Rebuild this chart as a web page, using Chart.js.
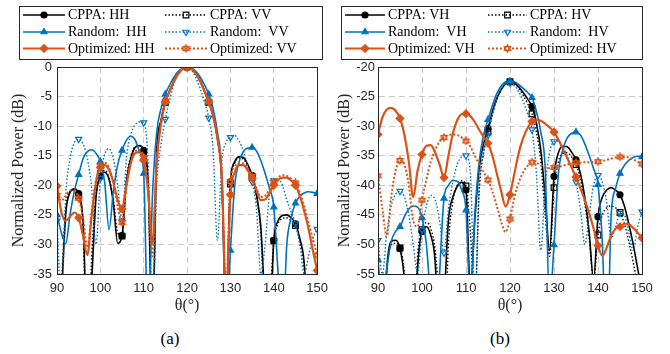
<!DOCTYPE html>
<html>
<head>
<meta charset="utf-8">
<script src="https://cdn.jsdelivr.net/npm/chart.js@4/dist/chart.umd.min.js"></script>
<style>
  body { margin: 0; background: #fff; width: 670px; height: 354px; position: relative; overflow: hidden; }
  .panel { position: absolute; top: 0; width: 335px; height: 320px; }
  .cap { position: absolute; top: 329px; width: 60px; text-align: center; font: 17px "Liberation Serif", serif; color: #000; }
</style>
</head>
<body>
<div class="panel" style="left:0"><canvas id="chartA" width="335" height="320"></canvas></div>
<div class="panel" style="left:335px"><canvas id="chartB" width="335" height="320"></canvas></div>
<div class="cap" style="left:140px">(a)</div>
<div class="cap" style="left:470px">(b)</div>
<script>
// angle samples (deg)
const theta = [
  90, 91, 92, 93, 94, 95, 96, 97, 98, 99,
  100, 101, 102, 103, 104, 105, 106, 107, 108, 109,
  110, 111, 112, 113, 114, 115, 116, 117, 118, 119,
  120, 121, 122, 123, 124, 125, 126, 127, 128, 129,
  130, 131, 132, 133, 134, 135, 136, 137, 138, 139,
  140, 141, 142, 143, 144, 145, 146, 147, 148, 149,
  150
];
const xTicks = [90, 100, 110, 120, 130, 140, 150];

// ---- panel (a): co-polar ----
const cppaHH = [
  -60, -40, -25, -21.2, -20.6, -21.4, -26, -45, -36, -22,
  -18.5, -17.8, -19, -23, -29.8, -28.5, -19.5, -15.5, -13.6, -13.3,
  -14.1, -19, -45, -14.5, -9, -5.8, -4, -2.3, -1, -0.25,
  0, -0.25, -1, -2.3, -4, -5.8, -8.2, -12, -19, -40,
  -19.4, -16, -15.2, -15.3, -16.5, -18.3, -21.5, -27, -40, -45,
  -29.3, -26, -25.1, -25, -25.5, -26.5, -29, -33, -45, -50,
  -60
];
const cppaVV = [
  -60, -38, -24, -21, -20.8, -21.8, -27, -50, -32, -21.5,
  -18, -17.5, -18.7, -22.5, -28, -28.6, -19, -15.2, -13.5, -13.4,
  -14.4, -20, -45, -15, -9.2, -6, -4.1, -2.3, -1, -0.25,
  0, -0.25, -1, -2.3, -4.1, -6, -8.4, -12, -19, -40,
  -19.8, -16.2, -15.4, -15.6, -16.8, -18.6, -22, -28, -42, -40,
  -29.4, -26.5, -25.6, -25.5, -26, -26.8, -29.5, -34, -45, -48,
  -60
];
const randHH = [
  -25, -28, -29.9, -25, -21, -18.2, -15.5, -14.3, -14, -14.6,
  -16, -19.5, -27.5, -21, -16.5, -14.1, -12.4, -11.7, -12.3, -14.3,
  -18, -45, -22, -11, -7, -4.6, -3, -1.7, -0.7, -0.15,
  0, -0.15, -0.7, -1.7, -3, -4.6, -7, -11, -18, -45,
  -31, -20, -16, -14.3, -13.7, -13.6, -14.2, -15.8, -18, -20.5,
  -23.7, -35, -45, -30, -25.5, -23, -21.9, -21.3, -21.1, -21.2,
  -21.4
];
const randVV = [
  -26, -40, -22, -15.5, -12.8, -12.2, -13, -15.5, -20.5, -30,
  -18.8, -14.8, -13.8, -15.5, -20, -26, -15.5, -11.5, -9.8, -9.3,
  -9.4, -16, -40, -20, -13, -8.8, -5.5, -2.8, -1.1, -0.25,
  0, -0.5, -1.8, -3.6, -5.9, -8.6, -14, -29.3, -16, -12.7,
  -11.9, -11.6, -12.5, -14.3, -16.8, -19.4, -24, -35, -30, -21.5,
  -19.2, -19, -20, -22.5, -24.5, -26.5, -30, -35, -32, -29,
  -27.4
];
const optHH = [
  -20.1, -24.5, -26, -25.3, -24.6, -25.5, -28.5, -31.8, -25, -19.5,
  -17, -16.6, -17.4, -19.5, -22.5, -24, -20, -16.3, -14.6, -14.4,
  -15.8, -21, -30, -16, -9.5, -5.9, -4.1, -2.4, -1.1, -0.3,
  0, -0.3, -1.1, -2.4, -4.1, -5.9, -8.3, -12, -18.5, -40,
  -21.6, -17.8, -16.6, -16.6, -17.5, -18.8, -20.8, -22.5, -22.4, -21.3,
  -20, -19.1, -18.7, -18.7, -19.2, -20, -21.8, -24.3, -27.3, -31,
  -34.4
];
const optVV = [
  -21.7, -22.6, -21.8, -20.9, -21, -22.2, -25.5, -30.5, -24.5, -19.2,
  -16.7, -16.2, -17, -19.5, -23.5, -26.3, -20.5, -16.2, -14.3, -14,
  -15.3, -20, -32, -16, -9.4, -5.8, -4, -2.3, -1, -0.25,
  0, -0.25, -1, -2.3, -4, -5.8, -8.2, -12, -18, -38,
  -19.4, -16.8, -16.3, -16.3, -17.2, -18.5, -20.5, -22, -21.8, -20.7,
  -19.5, -18.7, -18.3, -18.4, -18.9, -19.6, -21.2, -23.5, -26.3, -29,
  -31.8
];

// ---- panel (b): cross-polar ----
const cppaVH = [
  -70, -70, -54, -49.5, -49.3, -50.7, -56, -70, -70, -54,
  -47.8, -47, -48.5, -53, -70, -60, -46, -42, -40.2, -39.5,
  -40.8, -58, -46, -37, -33, -30.4, -27.5, -25.3, -23.8, -22.8,
  -22.5, -22.7, -23.4, -24.3, -25.4, -26.7, -29.5, -34, -42, -51,
  -38.5, -34.5, -33.4, -33.5, -34.4, -35.7, -38, -42, -48, -56,
  -45.3, -42, -40.8, -40.4, -40.8, -41.6, -43.5, -46.5, -50, -54,
  -58
];
const cppaHV = [
  -70, -70, -55, -50, -49.8, -50.6, -55, -70, -70, -52,
  -47.5, -46.3, -47.3, -51, -60, -70, -50, -42.8, -40, -39.2,
  -40.1, -48, -60, -41, -34.5, -31, -28, -25.5, -23.8, -22.8,
  -22.5, -22.8, -23.6, -24.8, -26.2, -27.9, -31, -36, -45, -52,
  -40.4, -36, -34.6, -34.5, -35.2, -36.5, -39, -43, -49, -56,
  -48.4, -45, -43.8, -43.5, -43.8, -44.6, -46.5, -49.5, -53, -57,
  -60
];
const randVH = [
  -52.6, -60, -54, -49.5, -47.8, -47, -45.3, -44, -43.5, -43.7,
  -45.5, -50, -60, -70, -55, -42.2, -40, -39.2, -39.3, -40.8,
  -44.2, -60, -45, -36, -31.5, -28.9, -26.5, -24.5, -23.2, -22.5,
  -22.4, -22.5, -23, -23.6, -24.3, -25.2, -27.5, -31, -37, -60,
  -50.1, -38, -34, -32, -31.2, -31, -31.5, -33, -35, -37.2,
  -39.9, -50, -70, -45, -40.5, -38, -36.6, -35.8, -35.3, -35.1,
  -35.2
];
const randHV = [
  -49.3, -55, -48, -43.5, -41.5, -41, -42, -45, -50, -55,
  -47.6, -43.5, -41.7, -42.5, -46, -51.4, -44, -39.5, -36.5, -35.2,
  -35, -38, -60, -40, -34.5, -31.5, -28, -25.3, -23.6, -22.8,
  -22.7, -23.2, -24.2, -25.8, -27.9, -30.6, -38, -51, -40, -34.5,
  -32.6, -32.5, -33.5, -35, -37, -39.4, -44, -50, -45, -40,
  -38.3, -39.5, -43, -49, -47, -44.7, -45, -48, -51, -47,
  -44.5
];
const optVH = [
  -31.4, -28.5, -27.2, -26.9, -27.4, -28.7, -31.5, -36, -42, -37.5,
  -34.8, -33.3, -33.2, -34.5, -36.5, -38.7, -35, -31.3, -29, -28,
  -27.9, -28.3, -29.3, -30.6, -31.8, -32.9, -35, -38, -41, -43.6,
  -41.6, -38, -34.5, -32, -30.3, -29.2, -28.9, -29.1, -29.6, -30.2,
  -31, -32.3, -33.8, -35.4, -37, -38.6, -40.5, -42.5, -44.8, -47.3,
  -50.2, -51.9, -50.5, -48.5, -47.3, -47, -46.5, -46.6, -47.2, -48,
  -48.9
];
const optHV = [
  -38.4, -44, -48.7, -42, -37.5, -35.8, -36.5, -40, -46, -47,
  -42.5, -39, -36, -34, -32.6, -31.9, -31.5, -31.4, -31.5, -31.9,
  -32.5, -33.5, -35, -36.5, -37.8, -39.1, -41, -43.5, -46.2, -47.9,
  -45.7, -42, -39.5, -37.8, -36.7, -36.1, -36.2, -36.6, -37, -37.1,
  -37, -36.9, -36.7, -36.5, -36.3, -36.2, -36.2, -36.1, -36.1, -36,
  -36, -35.9, -35.7, -35.5, -35.3, -35.2, -35.2, -35.3, -35.6, -36,
  -36.4
];

const labelsA = ['CPPA: HH', 'CPPA: VV', 'Random:  HH', 'Random:  VV', 'Optimized: HH', 'Optimized: VV'];
const labelsB = ['CPPA: VH', 'CPPA: HV', 'Random:  VH', 'Random:  HV', 'Optimized: VH', 'Optimized: HV'];

const BLACK = '#000000', BLUE = '#0072BD', ORANGE = '#D95319', AXIS = '#262626';

function hexagram(color) {
  const c = document.createElement('canvas');
  c.width = 9; c.height = 9;
  const g = c.getContext('2d');
  g.strokeStyle = color;
  g.lineWidth = 1.2;
  for (let k = 0; k < 2; k++) {
    g.beginPath();
    for (let j = 0; j < 3; j++) {
      const a = -Math.PI / 2 + k * Math.PI + j * 2 * Math.PI / 3;
      const px = 4.5 + 3.7 * Math.cos(a), py = 4.5 + 3.7 * Math.sin(a);
      if (j) g.lineTo(px, py); else g.moveTo(px, py);
    }
    g.closePath();
    g.stroke();
  }
  return c;
}
const hexOrange = hexagram(ORANGE);

const styles = [
  { color: BLACK, dash: [], width: 1.6, point: 'circle', fill: true, radius: 3 },
  { color: BLACK, dash: [1.5, 2], width: 1.4, point: 'rect', fill: false, radius: 4 },
  { color: BLUE, dash: [], width: 1.6, point: 'triangle', fill: true, radius: 3.5 },
  { color: BLUE, dash: [1.5, 2], width: 1.4, point: 'triangle', rotation: 180, fill: false, radius: 3.5 },
  { color: ORANGE, dash: [], width: 2.2, point: 'rectRot', fill: true, radius: 3.8 },
  { color: ORANGE, dash: [2, 2], width: 2, point: hexOrange, fill: false, radius: 4 }
];

function makeSet(label, vals, st, i) {
  return {
    label: label,
    data: theta.map((t, k) => ({ x: t, y: vals[k] })),
    borderColor: st.color,
    borderWidth: st.width,
    borderDash: st.dash,
    pointStyle: st.point,
    pointRotation: st.rotation || 0,
    pointRadius: ctx => (ctx.raw && ctx.raw.x % 5 === 0 ? st.radius : 0),
    pointBackgroundColor: st.fill ? st.color : 'rgba(0,0,0,0)',
    pointBorderColor: st.color,
    pointBorderWidth: 1.2,
    cubicInterpolationMode: 'monotone',
    fill: false,
    order: 6 - i
  };
}

const boxPlugin = {
  id: 'boxLegend',
  afterDatasetsDraw(chart) {
    const { ctx, chartArea: a } = chart;
    ctx.save();
    ctx.strokeStyle = AXIS;
    ctx.lineWidth = 1;
    ctx.setLineDash([]);
    ctx.strokeRect(Math.round(a.left) + 0.5, Math.round(a.top) + 0.5,
      Math.round(a.right - a.left), Math.round(a.bottom - a.top));
    ctx.restore();
  },
  afterDraw(chart, args, opts) {
    const ctx = chart.ctx;
    const [x0, y0, x1, y1] = opts.box;
    ctx.save();
    ctx.fillStyle = '#fff';
    ctx.fillRect(x0, y0, x1 - x0, y1 - y0);
    ctx.strokeStyle = AXIS;
    ctx.lineWidth = 1;
    ctx.strokeRect(x0 + 0.5, y0 + 0.5, x1 - x0, y1 - y0);
    ctx.font = '14px "Liberation Serif"';
    ctx.textBaseline = 'middle';
    opts.labels.forEach((lab, i) => {
      const st = styles[i];
      const col = opts.cols[i % 2];
      const y = opts.rows[Math.floor(i / 2)];
      ctx.strokeStyle = st.color;
      ctx.lineWidth = st.width;
      ctx.setLineDash(st.dash);
      ctx.beginPath();
      ctx.moveTo(col[0], y);
      ctx.lineTo(col[1], y);
      ctx.stroke();
      ctx.setLineDash([]);
      ctx.fillStyle = st.fill ? st.color : 'rgba(0,0,0,0)';
      ctx.lineWidth = 1.2;
      Chart.helpers.drawPoint(ctx, {
        pointStyle: st.point, radius: st.radius, rotation: st.rotation || 0, borderWidth: 1.2
      }, (col[0] + col[1]) / 2, y);
      ctx.fillStyle = '#000';
      ctx.fillText(lab, col[2], y + 0.5);
    });
    ctx.restore();
  }
};

function axisOptions(yMin, yMax, yWidth, titlePad, tickPad) {
  return {
    x: {
      type: 'linear', min: 90, max: 150,
      afterFit: s => { s.height = 46; },
      afterBuildTicks: s => { s.ticks = xTicks.map(v => ({ value: v })); },
      ticks: { padding: 7, color: AXIS, font: { family: 'Liberation Sans', size: 13 } },
      grid: { color: '#c8c8c8', lineWidth: 1, drawTicks: false },
      border: { color: AXIS, dash: [6, 4] },
      title: { display: true, text: 'θ(°)', color: AXIS,
        font: { family: 'Liberation Serif', size: 16 }, padding: { top: 0, bottom: 5 } }
    },
    y: {
      min: yMin, max: yMax,
      afterFit: s => { s.width = yWidth; },
      ticks: { stepSize: 5, padding: tickPad, color: AXIS, font: { family: 'Liberation Sans', size: 13 } },
      grid: { color: '#c8c8c8', lineWidth: 1, drawTicks: false },
      border: { color: AXIS, dash: [6, 4] },
      title: { display: true, text: 'Normalized Power (dB)', color: AXIS,
        font: { family: 'Liberation Serif', size: 16 }, padding: { top: titlePad, bottom: 0 } }
    }
  };
}

new Chart(document.getElementById('chartA'), {
  type: 'line',
  data: {
    datasets: [cppaHH, cppaVV, randHH, randVV, optHH, optVV].map((v, i) => makeSet(labelsA[i], v, styles[i], i))
  },
  options: {
    responsive: false,
    animation: false,
    layout: { padding: { top: 67, right: 14, left: 0, bottom: 0 } },
    scales: axisOptions(-35, 0, 57, 9, 5),
    plugins: {
      legend: { display: false },
      tooltip: { enabled: false },
      boxLegend: {
        box: [19, 6, 322, 59],
        rows: [15, 32, 48.5],
        cols: [[23, 65, 68], [165, 207, 210]],
        labels: labelsA
      }
    }
  },
  plugins: [boxPlugin]
});

new Chart(document.getElementById('chartB'), {
  type: 'line',
  data: {
    datasets: [cppaVH, cppaHV, randVH, randHV, optVH, optHV].map((v, i) => makeSet(labelsB[i], v, styles[i], i))
  },
  options: {
    responsive: false,
    animation: false,
    layout: { padding: { top: 67, right: 28, left: 0, bottom: 0 } },
    scales: axisOptions(-55, -20, 43, 0, 3),
    plugins: {
      legend: { display: false },
      tooltip: { enabled: false },
      boxLegend: {
        box: [6, 6, 307, 59],
        rows: [15, 32, 48.5],
        cols: [[10, 50, 53], [153, 192, 195]],
        labels: labelsB
      }
    }
  },
  plugins: [boxPlugin]
});
</script>
</body>
</html>
